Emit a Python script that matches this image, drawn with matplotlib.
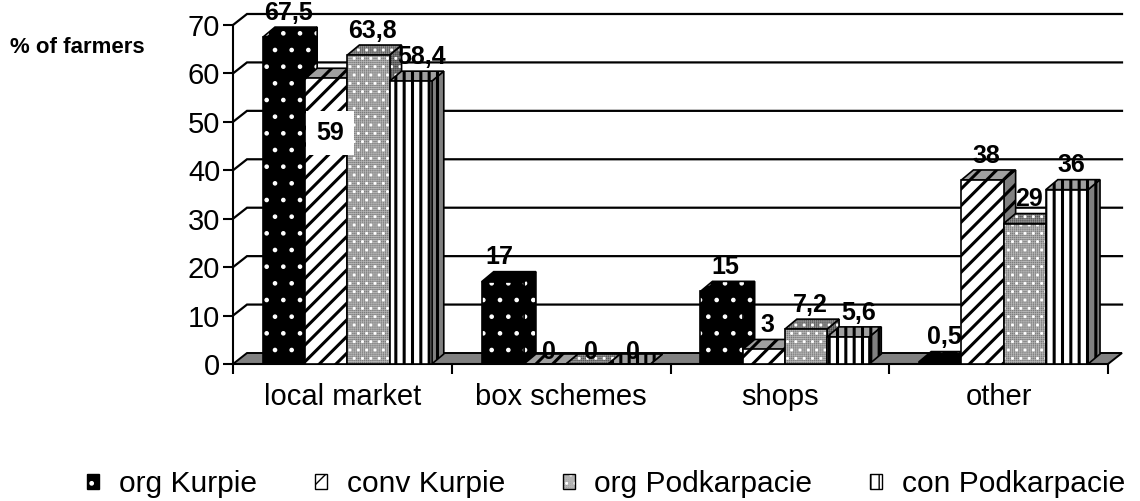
import matplotlib
matplotlib.use('Agg')
import matplotlib as mpl
import matplotlib.pyplot as plt
from matplotlib.patches import Polygon, Rectangle
from matplotlib.legend_handler import HandlerTuple

plt.rcParams['font.family'] = ['Liberation Sans', 'DejaVu Sans']

# ---------------- data ----------------
categories = ['local market', 'box schemes', 'shops', 'other']
series_names = ['org Kurpie', 'conv Kurpie', 'org Podkarpacie', 'con Podkarpacie']
org_kurpie = [67.5, 17, 15, 0.5]
conv_kurpie = [59, 0, 3, 38]
org_podkarpacie = [63.8, 0, 7.2, 29]
con_podkarpacie = [58.4, 0, 5.6, 36]
y_ticks = [0, 10, 20, 30, 40, 50, 60, 70]
y_label = '% of farmers'

series = [org_kurpie, conv_kurpie, org_podkarpacie, con_podkarpacie]

# ---------------- styles ----------------
# each style: list of hatch layers (facecolor, hatch, hatchcolor, hatch linewidth)
styles = [
    dict(front=[('black', '.', 'white', 0.9)],
         top=[('black', '.', 'white', 0.9)],
         side=[('black', '.', 'white', 0.9)]),
    dict(front=[('white', '//', 'black', 2.2)],
         top=[('#a0a0a0', '//', 'black', 2.2)],
         side=[('#808080', '//', 'black', 2.2)]),
    dict(front=[('#7c7c7c', '++++++++', '#b4b4b4', 0.5), ('none', '..', 'white', 1.0)],
         top=[('#555555', '++++++++', '#909090', 0.5), ('none', '..', 'white', 1.0)],
         side=[('#444444', '++++++++', '#7a7a7a', 0.5), ('none', '..', 'white', 1.0)]),
    dict(front=[('white', '||', 'black', 2.2)],
         top=[('#a0a0a0', '||', 'black', 2.2)],
         side=[('#808080', '||', 'black', 2.2)]),
]

W, H = 1140, 501
fig = plt.figure(figsize=(W / 100, H / 100), dpi=100)

PX_CAT = 218.75     # pixels per category
PX_UNIT = 4.843     # pixels per value unit
ax_left_px, ax_right_px = 233, 1128
zero_px = 364
ymax = 75
ax = fig.add_axes([ax_left_px / W, (H - zero_px) / H,
                   (ax_right_px - ax_left_px) / W, ymax * PX_UNIT / H])
ax.set_xlim(-0.5, -0.5 + (ax_right_px - ax_left_px) / PX_CAT)
ax.set_ylim(0, ymax)
ax.patch.set_alpha(0)

# depth offsets (data units)
wdx, wdy = 14 / PX_CAT, 11 / PX_UNIT      # wall / floor depth
bdx, bdy = 12 / PX_CAT, 10 / PX_UNIT      # bar depth
bar_w = 42.2 / PX_CAT
cluster_shift = 5 / PX_CAT
ncat = len(categories)
x_lo, x_hi = -0.5, ncat - 0.5


def hatch_lw(p, lw):
    if hasattr(p, 'set_hatch_linewidth'):
        p.set_hatch_linewidth(lw)
    return p


def make_patch(factory, layer, z):
    fc, hatch, hc, lw = layer
    with mpl.rc_context({'hatch.linewidth': lw}):
        p = factory(facecolor=fc, hatch=hatch, edgecolor=hc, lw=0, zorder=z)
    return hatch_lw(p, lw)


# back wall gridlines
for v in y_ticks[1:]:
    ax.plot([x_lo, x_lo + wdx, x_hi + wdx], [v, v + wdy, v + wdy],
            color='black', lw=1.6, zorder=1, clip_on=False, solid_joinstyle='miter')

# floor
ax.add_patch(Polygon([(x_lo, 0), (x_hi, 0), (x_hi + wdx, wdy), (x_lo + wdx, wdy)],
                     closed=True, facecolor='#808080', edgecolor='black', lw=1.4,
                     zorder=2, clip_on=False))


def face(pts, layers, z):
    for k, layer in enumerate(layers):
        p = make_patch(lambda **kw: Polygon(pts, closed=True, clip_on=False, **kw),
                       layer, z + 0.001 * k)
        ax.add_patch(p)
    ax.add_patch(Polygon(pts, closed=True, fill=False, edgecolor='black', lw=1.2,
                         zorder=z + 0.01, clip_on=False, joinstyle='miter'))


for i, (vals, st) in enumerate(zip(series, styles)):
    xs = [c + cluster_shift + (i - 1.5) * bar_w for c in range(ncat)]
    z = 10 + 3 * i
    for xc, v in zip(xs, vals):
        l, r = xc - bar_w / 2, xc + bar_w / 2
        face([(r, 0), (r + bdx, bdy), (r + bdx, v + bdy), (r, v)], st['side'], z)
        face([(l, v), (r, v), (r + bdx, v + bdy), (l + bdx, v + bdy)], st['top'], z + 1)
    # front faces through ax.bar
    for k, (fc, hatch, hc, lw) in enumerate(st['front']):
        with mpl.rc_context({'hatch.linewidth': lw}):
            bars = ax.bar(xs, vals, width=bar_w, color=fc, hatch=hatch,
                          edgecolor=hc, linewidth=0, zorder=z + 2 + 0.001 * k)
        for p in bars:
            hatch_lw(p, lw)
    ax.bar(xs, vals, width=bar_w, fill=False, edgecolor='black', linewidth=1.2,
           zorder=z + 2.01)

# data labels
label_dx = {(0, 3): 7, (2, 3): 6, (1, 0): -7}
for i, vals in enumerate(series):
    for c, v in enumerate(vals):
        xc = c + cluster_shift + (i - 1.5) * bar_w
        txt = ('%g' % v).replace('.', ',')
        dxp = 4 + label_dx.get((c, i), 0)
        y = v + 5 if v > 0 else 2.5
        kw = {}
        if (c, i) == (0, 1):
            y = 47.7
            kw = dict(bbox=dict(boxstyle='square,pad=0.4', facecolor='white',
                                edgecolor='none'))
        ax.text(xc + dxp / PX_CAT, y, txt, ha='center', va='center', fontsize=18,
                fontweight='bold', zorder=40, **kw)

# axes styling
for s in ['top', 'right']:
    ax.spines[s].set_visible(False)
ax.spines['left'].set_bounds(0, 70)
ax.spines['left'].set_linewidth(1.5)
ax.spines['bottom'].set_bounds(x_lo, x_hi)
ax.spines['bottom'].set_linewidth(1.5)
ax.spines['bottom'].set_zorder(5)

ax.set_yticks(y_ticks)
ax.set_yticklabels([str(t) for t in y_ticks])
ax.tick_params(axis='y', length=7.2, width=1.5, pad=2, labelsize=21)

ax.set_xticks(range(ncat))
ax.set_xticklabels(categories)
ax.set_xticks([x_lo + k for k in range(ncat + 1)], minor=True)
ax.tick_params(axis='x', which='major', length=0, pad=13.5, labelsize=21)
ax.tick_params(axis='x', which='minor', length=7.5, width=1.5)

fig.text(10 / W, (H - 53) / H, y_label, fontsize=16, fontweight='bold',
         ha='left', va='baseline')

# legend
handles = []
for st in styles:
    parts = [make_patch(lambda **kw: Rectangle((0, 0), 1, 1, **kw), layer, 1)
             for layer in st['front']]
    parts.append(Rectangle((0, 0), 1, 1, fill=False, edgecolor='black', lw=1.0))
    handles.append(tuple(parts))
fig.legend(handles, series_names, handler_map={tuple: HandlerTuple(ndivide=1, pad=0)},
           loc='center left', bbox_to_anchor=(87 / W, (H - 484) / H), ncol=4,
           frameon=False, fontsize=21.6, handlelength=0.4, handleheight=0.4,
           handletextpad=0.66, columnspacing=1.93, borderpad=0, borderaxespad=0)

fig.savefig('out.png', dpi=100)
